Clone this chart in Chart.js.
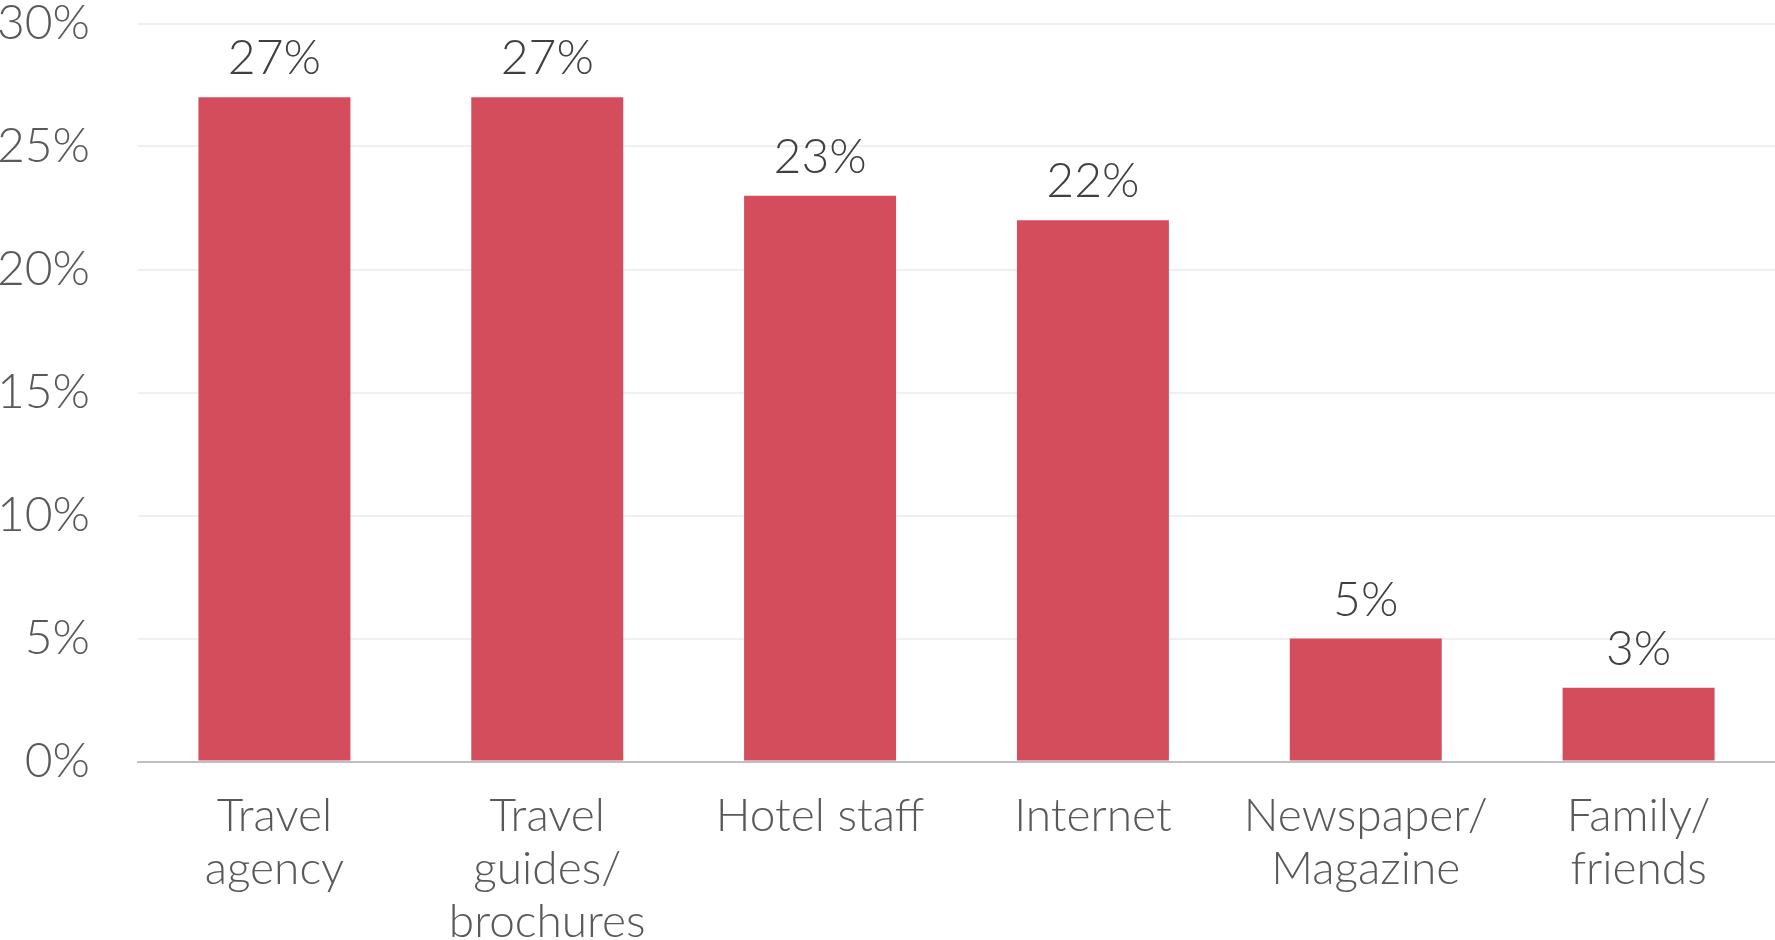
<!DOCTYPE html>
<html><head><meta charset="utf-8">
<script src="https://cdn.jsdelivr.net/npm/chart.js@4"></script>
<style>html,body{margin:0;padding:0;background:#fff}#wrap{width:1775px;height:940px}</style>
</head><body><div id="wrap"><canvas id="c"></canvas></div>
<script>
const categories = [["Travel","agency"],["Travel","guides/","brochures"],["Hotel staff"],["Internet"],["Newspaper/","Magazine"],["Family/","friends"]];
const values = [27, 27, 23, 22, 5, 3];
const yTicks = [0, 5, 10, 15, 20, 25, 30];
const FONT = "Lato, 'Open Sans', sans-serif";

const labelPlugin = {
  id: 'vals',
  afterDatasetsDraw(chart) {
    const ctx = chart.ctx;
    const meta = chart.getDatasetMeta(0);
    ctx.save();
    ctx.font = "300 48px " + FONT;
    ctx.fillStyle = '#404040';
    ctx.textAlign = 'center';
    ctx.textBaseline = 'alphabetic';
    meta.data.forEach((bar, i) => {
      ctx.fillText(values[i] + '%', bar.x, bar.y - 23);
    });
    ctx.restore();
  }
};

new Chart(document.getElementById('c'), {
  type: 'bar',
  data: { labels: categories, datasets: [{ data: values, backgroundColor: '#d44d5c', categoryPercentage: 1, barPercentage: 0.557 }] },
  options: {
    responsive: true, maintainAspectRatio: false, animation: false,
    layout: { padding: { top: 23.5, right: 0, left: 0, bottom: 0 } },
    plugins: { legend: { display: false }, tooltip: { enabled: false } },
    scales: {
      x: {
        grid: { display: false, drawTicks: false },
        border: { color: '#bfbfbf', width: 2 },
        ticks: { color: '#595959', font: { family: FONT, size: 46, weight: 300, lineHeight: 1.15 }, padding: 28, maxRotation: 0, autoSkip: false },
        afterFit(s) { s.height = 178.5; s.paddingLeft = 0; s.paddingRight = 0; }
      },
      y: {
        min: 0, max: 30,
        afterBuildTicks(s) { s.ticks = yTicks.map(v => ({ value: v })); },
        grid: { color: '#f0f0f0', lineWidth: 2, drawTicks: false },
        border: { display: false },
        ticks: { color: '#595959', font: { family: FONT, size: 48, weight: 300 }, padding: 48, callback: v => v + '%' },
        afterFit(s) { s.width = 138; s.paddingTop = 0; s.paddingBottom = 0; }
      }
    }
  },
  plugins: [labelPlugin]
});
</script></body></html>
